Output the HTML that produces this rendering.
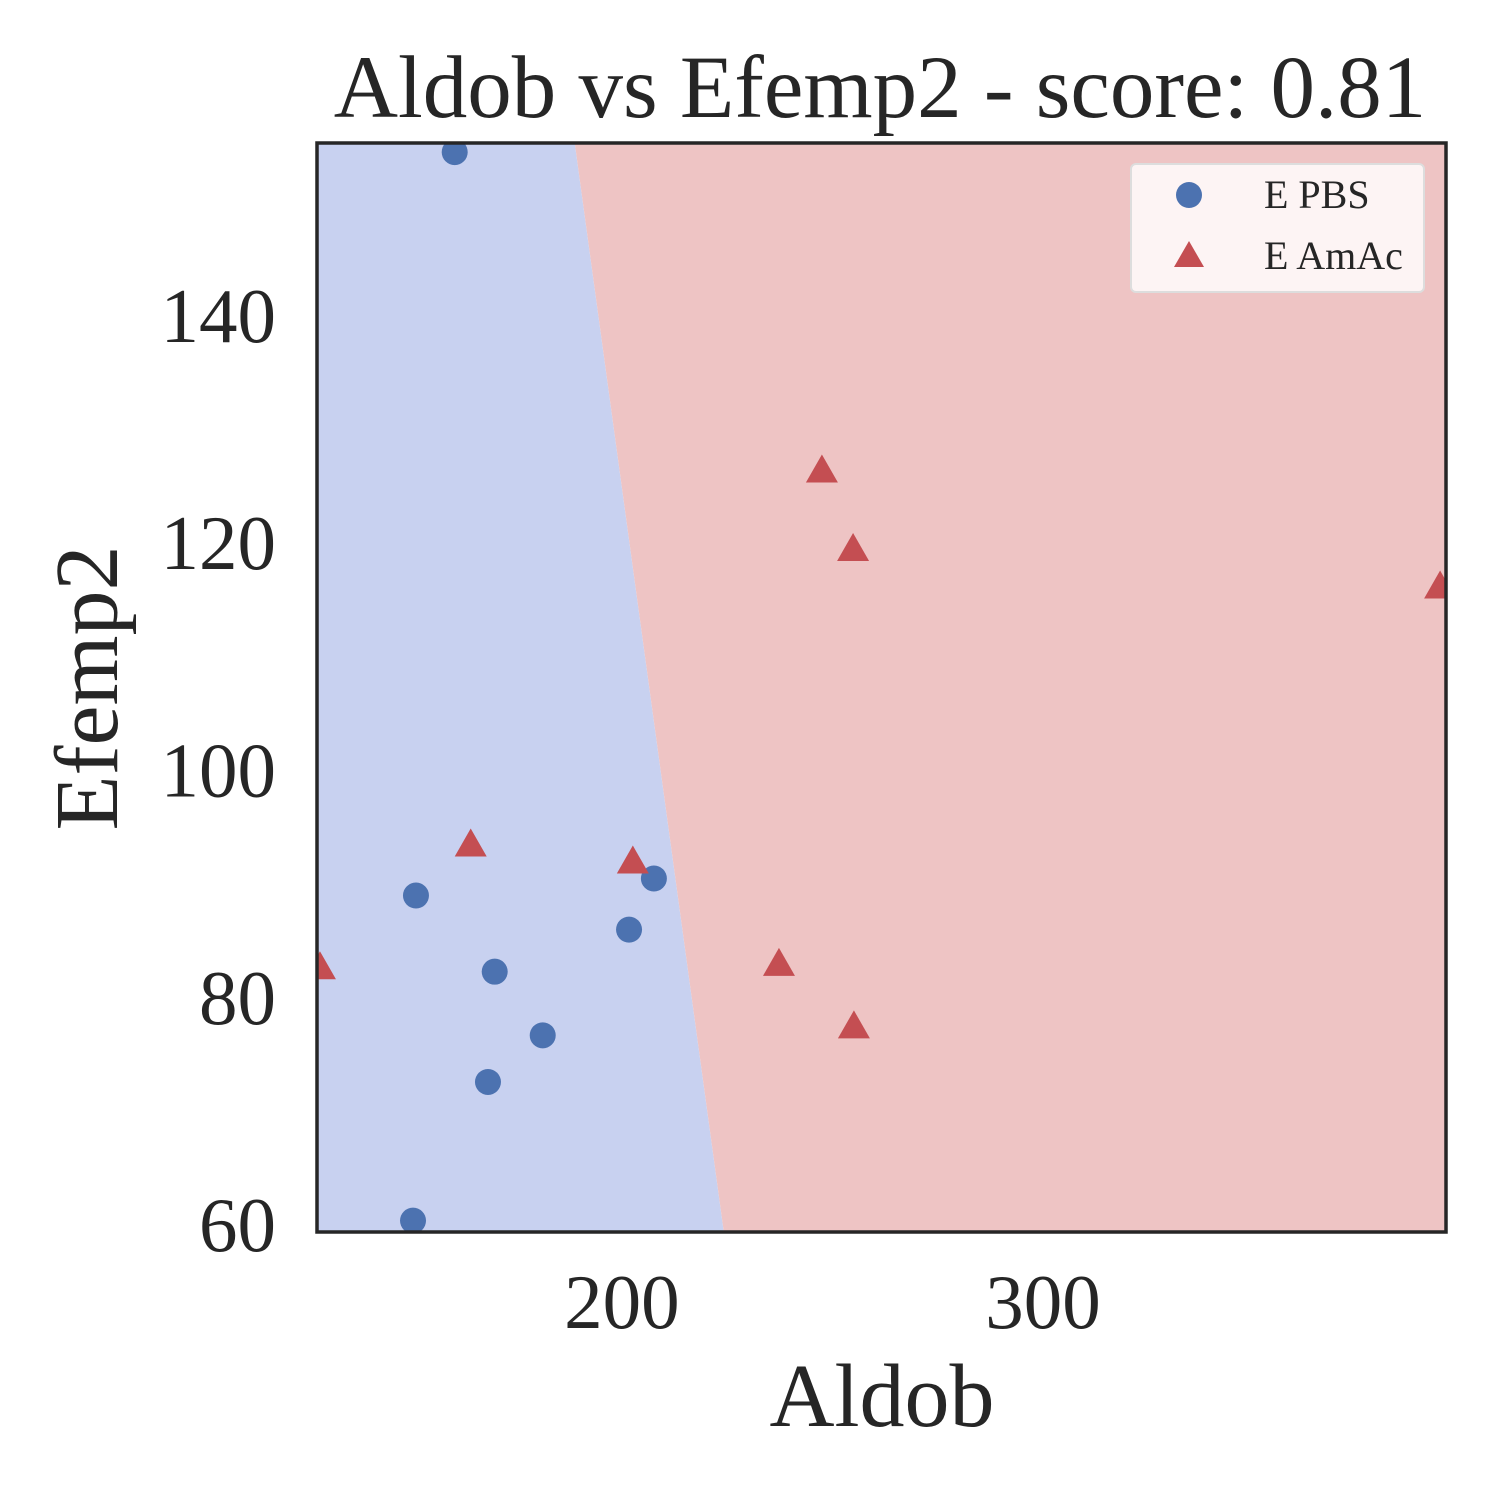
<!DOCTYPE html>
<html><head><meta charset="utf-8"><style>
body{margin:0;background:#fff}
svg text{font-family:"Liberation Serif",serif;fill:#262626}
</style></head><body>
<svg id="chart" width="1500" height="1500" viewBox="0 0 1500 1500" xmlns="http://www.w3.org/2000/svg">
<defs><clipPath id="clip"><rect x="317" y="143" width="1129" height="1089"/></clipPath></defs>
<g id="regions" clip-path="url(#clip)"></g>
<g id="marks" clip-path="url(#clip)"></g>
<rect x="317" y="143" width="1129" height="1089" fill="none" stroke="#262626" stroke-width="3.5"/>
<g id="ticks"></g>
<text x="880" y="117" font-size="89" text-anchor="middle">Aldob vs Efemp2 - score: 0.81</text>
<text x="882" y="1426" font-size="90" text-anchor="middle">Aldob</text>
<text transform="translate(117,688) rotate(-90)" font-size="90" text-anchor="middle">Efemp2</text>
<g>
<rect x="1131" y="164" width="293" height="128" rx="5" fill="#fdf4f4" stroke="#ddd" stroke-width="2"/>
<circle cx="1189" cy="195" r="13" fill="#4c72b0"/>
<text x="1264" y="208" font-size="40">E PBS</text>
<polygon points="1189,241 1174,267 1204,267" fill="#c44e52"/>
<text x="1264" y="269" font-size="40">E AmAc</text>
</g>
</svg>
<script>
const xDomain=[127.6,395.7];
const yDomain=[59.4,155.2];
const xTicks=[200,300];
const yTicks=[60,80,100,120,140];
const boundary=[[188.8,155.2],[224.2,59.4]];
const pbsX=[160.3,151.1,169.8,181.2,168.2,150.4,201.7,207.6];
const pbsY=[154.4,89.0,82.3,76.7,72.6,60.4,86.0,90.5];
const amacX=[164.1,202.6,237.3,255.1,247.5,254.9,394.3,128.3];
const amacY=[93.4,91.9,82.9,77.4,126.3,119.4,116.1,82.6];
const L=317,R=1446,T=143,B=1232;
const sx=v=>L+(v-xDomain[0])/(xDomain[1]-xDomain[0])*(R-L);
const sy=v=>B-(v-yDomain[0])/(yDomain[1]-yDomain[0])*(B-T);
const NS="http://www.w3.org/2000/svg";
function mk(tag,attrs,parent){const e=document.createElementNS(NS,tag);for(const k in attrs)e.setAttribute(k,attrs[k]);parent.appendChild(e);return e;}
const reg=document.getElementById('regions');
const bx0=sx(boundary[0][0]),by0=sy(boundary[0][1]),bx1=sx(boundary[1][0]),by1=sy(boundary[1][1]);
const slope=(bx1-bx0)/(by1-by0);
const xt=bx0+(T-by0)*slope, xb=bx0+(B-by0)*slope;
let p=mk('polygon',{points:`${L},${T} ${xt},${T} ${xb},${B} ${L},${B}`,fill:'#c8d1f0'},reg);


p=mk('polygon',{points:`${xt},${T} ${R},${T} ${R},${B} ${xb},${B}`,fill:'#eec4c4'},reg);


const marks=document.getElementById('marks');
pbsX.forEach((x,i)=>{const c=mk('circle',{cx:sx(x),cy:sy(pbsY[i]),r:13,fill:'#4c72b0'},marks);

});
amacX.forEach((x,i)=>{const cx=sx(x),cy=sy(amacY[i]);
const t=mk('polygon',{points:`${cx},${cy-17} ${cx-16},${cy+11} ${cx+16},${cy+11}`,fill:'#c44e52'},marks);

});
const tg=document.getElementById('ticks');
xTicks.forEach(v=>{const t=mk('text',{x:sx(v),y:1328,'font-size':77,'text-anchor':'middle'},tg);t.textContent=v;

});
yTicks.forEach(v=>{const t=mk('text',{x:276,y:sy(v)+26,'font-size':77,'text-anchor':'end'},tg);t.textContent=v;

});
</script>
</body></html>
